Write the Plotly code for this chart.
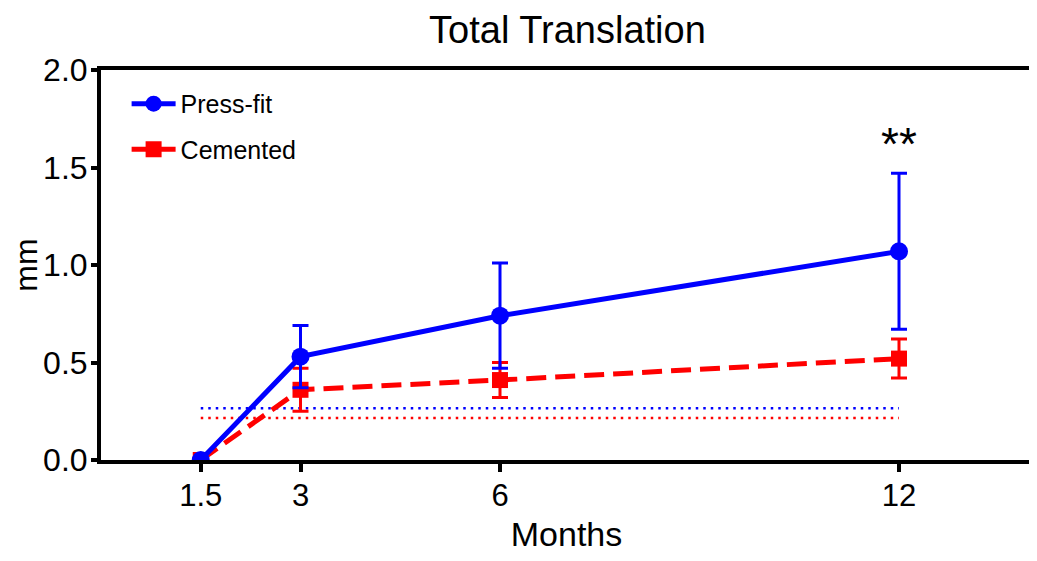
import plotly.graph_objects as go

months = [1.5, 3, 6, 12]
tick_labels = ["1.5", "3", "6", "12"]

pressfit_mean = [0.0, 0.53, 0.74, 1.07]
pressfit_sd = [0.0, 0.16, 0.27, 0.40]
cemented_mean = [0.0, 0.36, 0.41, 0.52]
cemented_sd = [0.0, 0.11, 0.09, 0.10]

threshold_x = [1.5, 12]
pressfit_threshold = 0.265
cemented_threshold = 0.215

sig_month = 12
sig_label = "**"
sig_y = 1.62

BLUE = "#0000FF"
RED = "#FF0000"
FONT = "Liberation Sans, Arial, Helvetica, sans-serif"

fig = go.Figure()

# threshold dotted lines
fig.add_trace(go.Scatter(
    x=threshold_x, y=[cemented_threshold] * len(threshold_x), mode="lines",
    line=dict(color=RED, width=2.5, dash="2.5px,5px"), showlegend=False, hoverinfo="skip"))
fig.add_trace(go.Scatter(
    x=threshold_x, y=[pressfit_threshold] * len(threshold_x), mode="lines",
    line=dict(color=BLUE, width=2.5, dash="2.5px,5px"), showlegend=False, hoverinfo="skip"))

fig.add_trace(go.Scatter(
    x=months, y=cemented_mean, name="Cemented", mode="lines+markers",
    line=dict(color=RED, width=5, dash="20px,9px"),
    marker=dict(symbol="square", size=16, color=RED),
    error_y=dict(type="data", array=cemented_sd, visible=True, color=RED, thickness=3, width=8),
    legendgroup="c", legendrank=2))

fig.add_trace(go.Scatter(
    x=months, y=pressfit_mean, name="Press-fit", mode="lines+markers",
    line=dict(color=BLUE, width=5),
    marker=dict(symbol="circle", size=18, color=BLUE),
    error_y=dict(type="data", array=pressfit_sd, visible=True, color=BLUE, thickness=3, width=8),
    legendgroup="p", legendrank=1))

fig.add_annotation(x=sig_month, y=sig_y, text=sig_label, showarrow=False,
                   font=dict(size=46, color="black", family=FONT), yanchor="middle")

# the page body adds an 8px offset, so the figure is 8px smaller on each side
fig.update_layout(
    width=1029, height=545,
    margin=dict(l=93, r=5, t=62, b=93, autoexpand=False),
    paper_bgcolor="white", plot_bgcolor="white",
    font=dict(family=FONT, color="black"),
    title=dict(text="Total Translation", x=0.5437, xanchor="center",
               y=1 - 22 / 545, yanchor="middle", yref="container",
               font=dict(size=38, color="black", family=FONT)),
    showlegend=True,
    legend=dict(x=0.0275, y=0.972, xanchor="left", yanchor="top", itemwidth=44,
                font=dict(size=25, color="black", family=FONT),
                bgcolor="rgba(0,0,0,0)", tracegroupgap=10, traceorder="grouped"),
    xaxis=dict(range=[0, 14], tickmode="array", tickvals=months, ticktext=tick_labels,
               ticks="outside", ticklen=8, tickwidth=4, tickcolor="black",
               ticklabelstandoff=-3,
               showline=True, linewidth=4, linecolor="black", mirror=True,
               showgrid=False, zeroline=False, automargin=False,
               tickfont=dict(size=31, color="black", family=FONT),
               title=dict(text="Months", font=dict(size=34, color="black", family=FONT), standoff=28)),
    yaxis=dict(range=[0, 2], tickmode="linear", tick0=0, dtick=0.5, tickformat=".1f",
               ticks="outside", ticklen=6, tickwidth=4, tickcolor="black",
               ticklabelstandoff=-3,
               showline=True, linewidth=4, linecolor="black", mirror=True,
               showgrid=False, zeroline=False, automargin=False,
               tickfont=dict(size=32, color="black", family=FONT),
               title=dict(text="mm", font=dict(size=32, color="black", family=FONT), standoff=0)),
)

fig.write_html("out.html")
